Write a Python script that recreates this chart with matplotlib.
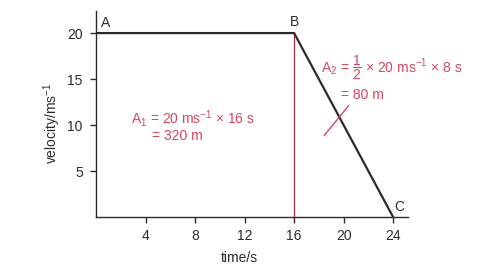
import matplotlib
matplotlib.use("Agg")
import matplotlib.pyplot as plt

plt.rcParams['font.family'] = ['Liberation Sans', 'DejaVu Sans']
plt.rcParams['mathtext.fontset'] = 'custom'
plt.rcParams['mathtext.rm'] = 'Liberation Sans'
plt.rcParams['mathtext.it'] = 'Liberation Sans'
plt.rcParams['mathtext.sf'] = 'Liberation Sans'

times = [0, 16, 24]
velocities = [20, 20, 0]
point_labels = ['A', 'B', 'C']
x_ticks = [4, 8, 12, 16, 20, 24]
y_ticks = [5, 10, 15, 20]
divider_time = 16
slash_x = [18.45, 20.4]
slash_y = [8.9, 12.1]

RED = '#d8455e'
DARK = '#2b2b2b'
FS = 10

fig = plt.figure(figsize=(4.8, 2.68), dpi=100)
ax = fig.add_axes([0.2, 0.19, 0.65, 0.769])
ax.set_xlim(0, 25.2)
ax.set_ylim(0, 22.4)

ax.plot(times, velocities, color=DARK, lw=1.6, solid_joinstyle='miter', zorder=3)
ax.plot([divider_time, divider_time], [0, velocities[1]], color='#b03048', lw=0.9, zorder=2)
ax.plot(slash_x, slash_y, color=RED, lw=1.0, zorder=4)

ax.text(times[0] + 0.4, velocities[0] + 0.3, point_labels[0], fontsize=FS, color=DARK, ha='left', va='bottom')
ax.text(times[1], velocities[1] + 0.4, point_labels[1], fontsize=FS, color=DARK, ha='center', va='bottom')
ax.text(times[2] + 0.1, velocities[2] + 0.3, point_labels[2], fontsize=FS, color=DARK, ha='left', va='bottom')

ax.text(2.8, 10.7, r'A$_1$ = 20 ms$^{-1}$ × 16 s', fontsize=FS, color=RED, ha='left', va='center')
ax.text(4.5, 8.8, '= 320 m', fontsize=FS, color=RED, ha='left', va='center')
ax.text(18.2, 16.2, r'A$_2$ = $\dfrac{1}{2}$ × 20 ms$^{-1}$ × 8 s', fontsize=FS, color=RED, ha='left', va='center')
ax.text(19.8, 13.3, '= 80 m', fontsize=FS, color=RED, ha='left', va='center')

for s in ['top', 'right']:
    ax.spines[s].set_visible(False)
for s in ['left', 'bottom']:
    ax.spines[s].set_color(DARK)
    ax.spines[s].set_linewidth(1.0)

ax.set_xticks(x_ticks)
ax.set_yticks(y_ticks)
ax.tick_params(direction='out', length=4.5, width=1.0, color=DARK, labelsize=FS, labelcolor=DARK)
ax.tick_params(axis='y', pad=5)
ax.tick_params(axis='x', pad=4)
ax.set_xlabel('time/s', fontsize=FS, color=DARK)
ax.set_ylabel('velocity/ms$^{-1}$', fontsize=FS, color=DARK)
ax.xaxis.set_label_coords(0.46, -0.165)
ax.yaxis.set_label_coords(-0.105, 0.455)

fig.savefig('out.png', dpi=100)
